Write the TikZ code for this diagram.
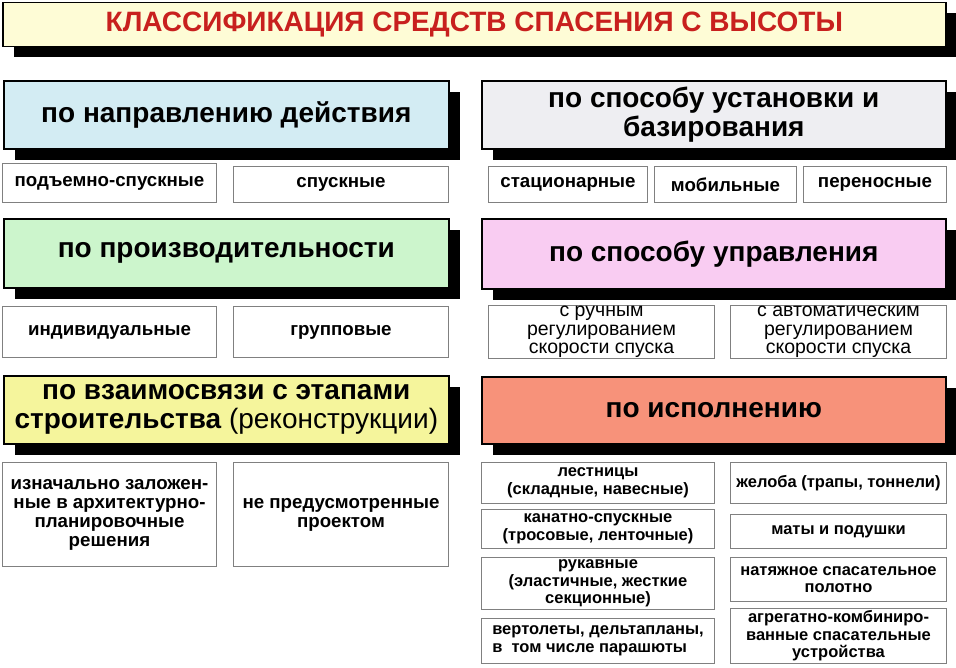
\documentclass[tikz,border=0pt]{standalone}
\usepackage{fontspec}
\setmainfont{Liberation Sans}
\usetikzlibrary{shadows}
\definecolor{titlered}{HTML}{C8201E}
\definecolor{titlebg}{HTML}{FEFCD6}
\definecolor{headblue}{HTML}{D3ECF3}
\definecolor{headgray}{HTML}{EEEEF2}
\definecolor{headgreen}{HTML}{CCF5CC}
\definecolor{headpink}{HTML}{F9CCF2}
\definecolor{headyellow}{HTML}{F5F59C}
\definecolor{headsalmon}{HTML}{F7927A}

\begin{document}
\begin{tikzpicture}[x=1pt,y=-1pt,
  head/.style={draw=black,line width=1.6pt,anchor=north west,inner sep=0pt,align=center,
    font=\fontsize{28}{29}\selectfont\bfseries,
    drop shadow={shadow xshift=11pt,shadow yshift=-11pt,fill=black,opacity=1}},
  item/.style={draw=black!50,line width=1pt,fill=white,anchor=north west,inner sep=0pt,align=center,
    font=\fontsize{18.7}{19}\selectfont\bfseries},
  small/.style={font=\fontsize{16.5}{17.5}\selectfont\bfseries},
  plain/.style={font=\fontsize{19.5}{18.5}\selectfont}]
\useasboundingbox (0,0) rectangle (956,667);

\node[head,fill=titlebg,text=titlered,minimum width=943pt,minimum height=44pt,
  font=\fontsize{28}{30}\selectfont\bfseries] (title) at (2,1.5) {КЛАССИФИКАЦИЯ СРЕДСТВ СПАСЕНИЯ С ВЫСОТЫ};

\node[head,fill=headblue,minimum width=445pt,minimum height=68pt] (dir) at (3,80) {по направлению действия};
\node[item,minimum width=214pt,minimum height=39pt] (dirA) at (2,163) {подъемно-спускные};
\node[item,minimum width=215pt,minimum height=36pt] (dirB) at (233,166) {спускные};

\node[head,fill=headgreen,minimum width=445pt,minimum height=69pt] (perf) at (3,218) {по производительности};
\node[item,minimum width=214pt,minimum height=51pt] (perfA) at (2,306) {индивидуальные};
\node[item,minimum width=215pt,minimum height=51pt] (perfB) at (233,306) {групповые};

\node[head,fill=headyellow,minimum width=445pt,minimum height=68pt] (stage) at (3,375)
  {по взаимосвязи с этапами\\строительства {\mdseries(реконструкции)}};
\node[item,minimum width=214pt,minimum height=104pt] (stageA) at (2,462)
  {изначально заложен-\\ные в архитектурно-\\планировочные\\решения};
\node[item,minimum width=215pt,minimum height=104pt] (stageB) at (233,462)
  {не предусмотренные\\проектом};

\node[head,fill=headgray,minimum width=464pt,minimum height=68pt] (base) at (481,80)
  {по способу установки и\\базирования};
\node[item,minimum width=159pt,minimum height=36pt] (baseA) at (488,166) {стационарные};
\node[item,minimum width=142pt,minimum height=36pt] (baseB) at (654,166) {мобильные};
\node[item,minimum width=143pt,minimum height=36pt] (baseC) at (803,166) {переносные};

\node[head,fill=headpink,minimum width=464pt,minimum height=70pt] (ctrl) at (481,218) {по способу управления};
\node[item,plain,minimum width=226pt,minimum height=53pt] (ctrlA) at (488,305)
  {с ручным\\регулированием\\скорости спуска};
\node[item,plain,minimum width=216pt,minimum height=53pt] (ctrlB) at (730,305)
  {с автоматическим\\регулированием\\скорости спуска};

\node[head,fill=headsalmon,minimum width=464pt,minimum height=67pt] (exec) at (481,376) {по исполнению};
\node[item,small,minimum width=233pt,minimum height=41pt] (execA) at (481,462) {лестницы\\(складные, навесные)};
\node[item,small,minimum width=233pt,minimum height=39pt] (execB) at (481,509) {канатно-спускные\\(тросовые, ленточные)};
\node[item,small,minimum width=233pt,minimum height=52pt] (execC) at (481,557)
  {рукавные\\(эластичные, жесткие\\секционные)};
\node[item,small,minimum width=233pt,minimum height=45pt,align=left] (execD) at (481,618)
  {вертолеты, дельтапланы,\\в~~том числе парашюты};
\node[item,small,minimum width=216pt,minimum height=41pt] (execE) at (730,462) {желоба (трапы, тоннели)};
\node[item,small,minimum width=216pt,minimum height=34pt] (execF) at (730,514) {маты и подушки};
\node[item,small,minimum width=216pt,minimum height=44pt] (execG) at (730,557) {натяжное спасательное\\полотно};
\node[item,small,minimum width=216pt,minimum height=55pt] (execH) at (730,608)
  {агрегатно-комбиниро-\\ванные спасательные\\устройства};
\end{tikzpicture}
\end{document}
